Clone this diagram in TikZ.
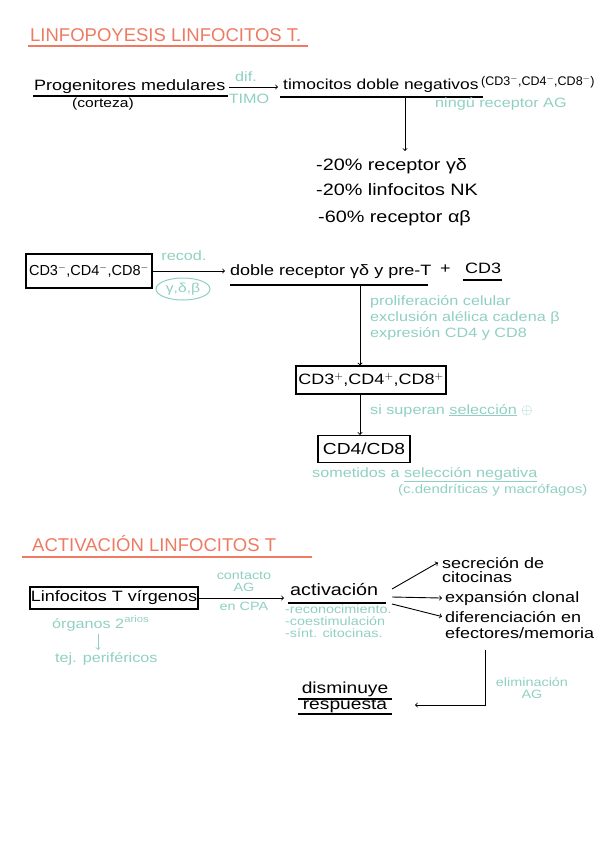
\documentclass[tikz,border=0pt]{standalone}
\usepackage{fontspec}
\setmainfont[FakeStretch=1.2]{Liberation Sans}
\newfontfamily\estrecho{Liberation Sans}
\usetikzlibrary{shapes.geometric}
\definecolor{salmon}{HTML}{EE7A62}
\definecolor{verde}{HTML}{8FD0C2}
\newcommand{\menos}{$^{-}$}
\newcommand{\mas}{$^{+}$}
\begin{document}
\begin{tikzpicture}[x=1pt,y=-1pt,
    txt/.style={inner sep=0pt,anchor=base west,font=\fontsize{15}{18}\selectfont},
    nota/.style={inner sep=0pt,anchor=base west,text=verde,font=\fontsize{13.5}{16}\selectfont},
    chica/.style={nota,font=\fontsize{12}{14}\selectfont},
    tit/.style={inner sep=0pt,anchor=base west,text=salmon,font=\estrecho\fontsize{18.5}{20}\selectfont},
    caja/.style={draw,line width=1.1pt,inner sep=3pt,font=\fontsize{15}{18}\selectfont},
    flecha/.style={->,line width=0.9pt},
    raya/.style={line width=1.2pt}]
  \useasboundingbox (0,0) rectangle (600,848);

  % linfopoyesis
  \node[tit] (tit1) at (30,42) {LINFOPOYESIS LINFOCITOS T.};
  \draw[salmon,line width=1.3pt] (28,46) -- (308,46);
  \node[txt] (prog) at (34,91) {Progenitores medulares};
  \draw[raya] (33,96) -- (228,96);
  \node[txt,font=\fontsize{13}{15}\selectfont] (cort) at (72,108) {(corteza)};
  \node[txt,font=\fontsize{14.5}{17}\selectfont] (timoc) at (283,90) {timocitos doble negativos};
  \draw[raya] (280,97) -- (483,97);
  \node[txt,font=\estrecho\fontsize{12.5}{14}\selectfont] (neg) at (481,86) {(CD3\menos,CD4\menos,CD8\menos)};
  \coordinate (p1) at (229,87);
  \coordinate (p2) at (278,87);
  \draw[flecha] (p1) -- (p2);
  \node[nota,anchor=base] (dif) at (246,82) {dif.};
  \node[nota,anchor=base] (timo) at (249,103) {TIMO};
  \node[nota] (ning) at (435,108) {ningú receptor AG};
  \coordinate (v1) at (405,97);
  \coordinate (v2) at (405,151);
  \draw[flecha] (v1) -- (v2);
  \node[txt,font=\fontsize{16.5}{18}\selectfont] (l1) at (316,170) {-20\% receptor γδ};
  \node[txt,font=\fontsize{16.5}{18}\selectfont] (l2) at (316,195) {-20\% linfocitos NK};
  \node[txt,font=\fontsize{16.5}{18}\selectfont] (l3) at (318,222) {-60\% receptor αβ};

  % reordenamiento
  \node[caja,font=\estrecho\fontsize{14.5}{17}\selectfont,minimum width=122pt,minimum height=34pt] (dn) at (89,271) {CD3\menos,CD4\menos,CD8\menos};
  \node[nota,anchor=base] (recod) at (184,260) {recod.};
  \node[draw=verde,line width=1pt,ellipse,inner sep=1pt,minimum width=54pt,minimum height=22pt,text=verde,font=\fontsize{13}{14}\selectfont] (gdb) at (183,289) {γ,δ,β};
  \node[txt] (doble) at (230,275) {doble receptor γδ y pre-T};
  \draw[raya] (230,285) -- (428,285);
  \node[txt] (plus) at (440,273) {+};
  \node[txt] (cd3) at (465,273) {CD3};
  \draw[raya] (463,280) -- (502,280);
  \draw[flecha] (dn.east) -- ([xshift=-5pt]doble.west |- dn.east);
  \coordinate (v3) at (360,285);
  \node[caja,font=\fontsize{15}{17}\selectfont,inner sep=2pt,minimum width=150pt,minimum height=28pt] (pos) at (371,380) {CD3\mas,CD4\mas,CD8\mas};
  \draw[flecha] (v3) -- (v3 |- pos.north);
  \node[nota] (n1) at (370,305) {proliferación celular};
  \node[nota] (n2) at (370,321) {exclusión alélica cadena β};
  \node[nota] (n3) at (370,337) {expresión CD4 y CD8};
  \node[caja,font=\fontsize{16}{18}\selectfont,minimum width=92pt,minimum height=27pt] (cd48) at (364,449) {CD4/CD8};
  \draw[flecha] (v3 |- pos.south) -- (v3 |- cd48.north);
  \node[nota] (sup) at (370,414) {si superan \underline{selección} $\oplus$};
  \node[nota] (som) at (312,477) {sometidos a \underline{selección negativa}};
  \node[nota,font=\fontsize{12.5}{14}\selectfont] (cdm) at (398,493) {(c.dendríticas y macrófagos)};

  % activacion
  \node[tit] (tit2) at (32,551) {ACTIVACIÓN LINFOCITOS T};
  \draw[salmon,line width=1.3pt] (22,557) -- (312,557);
  \node[caja,inner sep=1pt,minimum width=168pt,minimum height=22pt] (virg) at (114,598) {Linfocitos T vírgenos};
  \node[nota] (org) at (52,628) {órganos 2\textsuperscript{arios}};
  \node[nota] (tej) at (55,662) {tej. periféricos};
  \coordinate (o1) at (98,634);
  \coordinate (o2) at (98,650);
  \draw[->,verde,line width=0.9pt] (o1) -- (o2);
  \node[txt,font=\fontsize{16.5}{18}\selectfont] (act) at (290,595) {activación};
  \draw[raya] (288,603) -- (386,603);
  \draw[flecha] (virg.east) -- ([xshift=-6pt]act.west |- virg.east);
  \node[chica,anchor=base] (cont) at (244,579) {contacto};
  \node[chica,anchor=base] (ag1) at (244,591) {AG};
  \node[chica,anchor=base] (cpa) at (244,610) {en CPA};
  \node[chica] (r1) at (285,613) {-reconocimiento.};
  \node[chica] (r2) at (285,625) {-coestimulación};
  \node[chica] (r3) at (285,637) {-sínt. citocinas.};
  \node[txt] (sec1) at (442,568) {secreción de};
  \node[txt] (sec2) at (442,582) {citocinas};
  \node[txt] (exp) at (445,602) {expansión clonal};
  \node[txt] (dif1) at (445,622) {diferenciación en};
  \node[txt] (dif2) at (445,638) {efectores/memoria};
  \coordinate (a0) at (392,589);
  \coordinate (a1) at (392,597);
  \coordinate (a2) at (392,604);
  \draw[flecha] (a0) -- ([xshift=-4pt]sec1.west);
  \draw[flecha] (a1) -- ([xshift=-3pt]exp.west);
  \draw[flecha] (a2) -- ([xshift=-3pt]dif1.west);
  \coordinate (e1) at (485,650);
  \node[txt,font=\fontsize{16}{18}\selectfont,anchor=base] (dism) at (345,693) {disminuye};
  \node[txt,font=\fontsize{16}{18}\selectfont,anchor=base] (resp) at (345,709) {respuesta};
  \draw[raya] (298,699) -- (392,699);
  \draw[raya] (298,714) -- (392,714);
  \coordinate (e2) at (415,705);
  \draw[flecha] (e1) |- (e2);
  \node[chica,anchor=base] (elim) at (532,686) {eliminación};
  \node[chica,anchor=base] (ag2) at (532,698) {AG};
\end{tikzpicture}
\end{document}
